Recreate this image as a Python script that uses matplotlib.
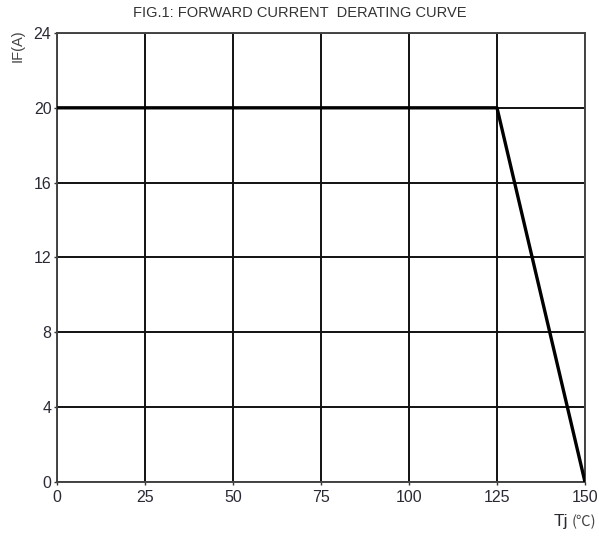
import matplotlib.pyplot as plt

# derating curve data
tj = [0, 125, 150]
if_a = [20, 20, 0]
x_ticks = [0, 25, 50, 75, 100, 125, 150]
y_ticks = [0, 4, 8, 12, 16, 20, 24]

plt.rcParams['font.family'] = ['Liberation Sans', 'DejaVu Sans']

fig = plt.figure(figsize=(5.99, 5.39), dpi=100)
ax = fig.add_axes([0.0952, 0.1058, 0.8814, 0.833])

ax.plot(tj, if_a, color='black', linewidth=2.4, solid_capstyle='butt', zorder=3)

ax.set_xlim(0, 150)
ax.set_ylim(0, 24)
ax.set_xticks(x_ticks)
ax.set_yticks(y_ticks)
ax.grid(True, color='#111111', linewidth=1.4)
for s in ax.spines.values():
    s.set_color('#444444')
    s.set_linewidth(1.4)
ax.tick_params(axis='both', length=2, width=1, colors='#333333', labelsize=11.5, labelcolor='#2a2a35')
ax.tick_params(axis='x', pad=4)
ax.tick_params(axis='y', pad=2)

fig.text(0.5, 0.976, "FIG.1: FORWARD CURRENT  DERATING CURVE", ha='center', va='center',
         fontsize=10.5, color='#333333')
fig.text(0.03, 0.915, "IF(A)", rotation=90, ha='center', va='center', fontsize=10.5, color='#444444')
fig.text(0.948, 0.032, "Tj", ha='right', va='center', fontsize=12.5, color='#2a2a35')
fig.text(0.955, 0.032, "(\u2103)", ha='left', va='center', fontsize=10.5, color='#444444',
         family=['Noto Sans CJK SC', 'DejaVu Sans'])

fig.savefig('out.png', dpi=100, facecolor='white')
